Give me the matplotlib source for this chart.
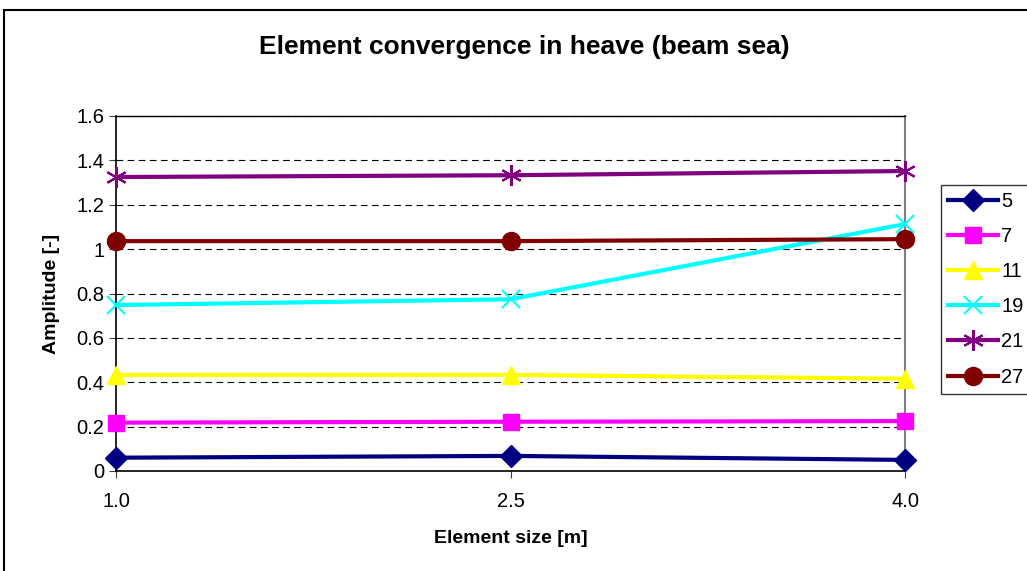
import numpy as np
import matplotlib
matplotlib.use('Agg')
import matplotlib.pyplot as plt
from matplotlib.patches import Rectangle

plt.rcParams['font.family'] = ['Liberation Sans', 'DejaVu Sans']

# datos
element_size = [1.0, 2.5, 4.0]
labels = ['5', '7', '11', '19', '21', '27']
amp_5 = [0.06, 0.068, 0.05]
amp_7 = [0.218, 0.222, 0.225]
amp_11 = [0.433, 0.433, 0.416]
amp_19 = [0.748, 0.774, 1.113]
amp_21 = [1.325, 1.333, 1.352]
amp_27 = [1.036, 1.036, 1.045]

series = [amp_5, amp_7, amp_11, amp_19, amp_21, amp_27]
colores = ['#000080', '#FF00FF', '#FFFF00', '#00FFFF', '#800080', '#800000']
marcadores = ['D', 's', '^', 'x', (6, 2, 0), 'o']
tamanos = [11, 11, 13, 13, 15, 13]

fig = plt.figure(figsize=(10.27, 5.71), dpi=100)
ax = fig.add_axes([116/1027, 100/571, (905-116)/1027, (471-116)/571])

for y, lab, c, m, ms in zip(series, labels, colores, marcadores, tamanos):
    mew = 1.5 if m in ('x', (6, 2, 0)) else 1
    ax.plot(element_size, y, color=c, lw=3, marker=m, markersize=ms,
            markeredgewidth=mew, markeredgecolor=c, label=lab, clip_on=False, zorder=3)

ax.set_xlim(1.0, 4.0)
ax.set_ylim(0, 1.6)
ax.set_xticks(element_size)
ax.set_xticklabels(['1.0', '2.5', '4.0'])
ax.set_yticks(np.arange(0, 1.61, 0.2))
ax.set_yticklabels(['0', '0.2', '0.4', '0.6', '0.8', '1', '1.2', '1.4', '1.6'])
ax.tick_params(labelsize=14.5, length=5, color='#404040')
ax.tick_params(axis='x', pad=10)
ax.yaxis.grid(True, linestyle=(0, (6, 4)), color='black', lw=0.8)
ax.spines['right'].set_color('gray')
ax.spines['right'].set_linewidth(1.5)
ax.spines['left'].set_linewidth(1.2)
ax.spines['bottom'].set_linewidth(1.2)
ax.spines['top'].set_linewidth(1)

ax.set_xlabel('Element size [m]', fontsize=14, fontweight='bold', labelpad=14)
ax.set_ylabel('Amplitude [-]', fontsize=14, fontweight='bold', labelpad=12)
fig.text(524/1027, 1 - 47/571, 'Element convergence in heave (beam sea)',
         fontsize=19, fontweight='bold', ha='center', va='center')

leg = fig.legend(loc='upper left', bbox_to_anchor=(941/1027, 1 - 185/571),
                 fontsize=14.5, handlelength=2.5, handletextpad=0.15,
                 labelspacing=0.8, frameon=True, fancybox=False,
                 borderpad=0.35, borderaxespad=0)
leg.get_frame().set_edgecolor('black')
leg.get_frame().set_linewidth(1)

# marco exterior del grafico
fig.patches.append(Rectangle((4/1027, -0.05), 1.1, 1 - 10/571 + 0.05,
                             transform=fig.transFigure, fill=False,
                             edgecolor='black', lw=1.5))

fig.savefig('out.png', dpi=100)
